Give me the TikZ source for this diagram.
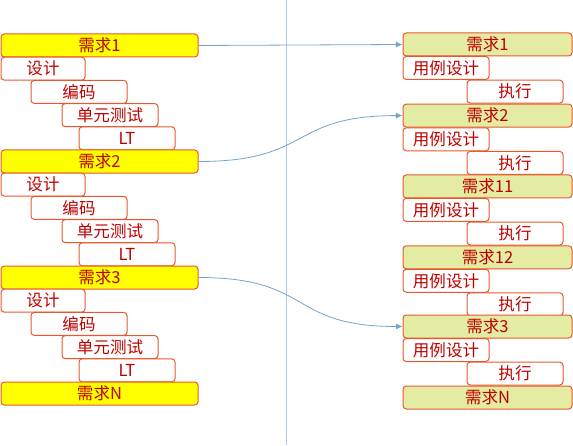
\documentclass[tikz,border=0pt]{standalone}
\usepackage{fontspec}
\newfontfamily\cjk{Noto Sans CJK SC}
\usetikzlibrary{arrows.meta}
\definecolor{boxline}{HTML}{E8582C}
\definecolor{boxtext}{HTML}{C00000}
\definecolor{reqfill}{HTML}{FFFF00}
\definecolor{casefill}{HTML}{E4EBA2}
\definecolor{linkblue}{HTML}{6FA6CE}
\definecolor{divider}{HTML}{B4CCDE}
\begin{document}
\begin{tikzpicture}[x=0.75pt, y=-0.75pt,
	every node/.style={draw=boxline, line width=0.75pt, rounded corners=2.5pt, fill=white, text=boxtext,
		font=\cjk\fontsize{12.4}{14}\selectfont, inner sep=0pt, minimum height=17.25pt},
	reqbox/.style={fill=reqfill, minimum width=147.75pt},
	rreqbox/.style={fill=casefill, minimum width=126.75pt},
	taskbox/.style={minimum width=72pt},
	link/.style={draw=linkblue, line width=0.6pt, -{Latex[length=5pt,width=4.5pt]}}]
				\useasboundingbox (0,0) rectangle (573,445);
				\draw[divider, line width=0.6pt] (286,0) -- (286,445);

				% development side
				\node[reqbox] (req1) at (99.5,45.5) {需求1};
				\node[minimum width=63pt] (design1) at (43,68.7) {设计};
				\node[taskbox] (code1) at (79,91.9) {编码};
				\node[taskbox] (unit1) at (110,115.1) {单元测试};
				\node[taskbox] (lt1) at (127,138.3) {LT};

				\node[reqbox] (req2) at (99.5,161.5) {需求2};
				\node[minimum width=63pt] (design2) at (43,184.7) {设计};
				\node[taskbox] (code2) at (79,207.9) {编码};
				\node[taskbox] (unit2) at (110,231.1) {单元测试};
				\node[taskbox] (lt2) at (127,254.3) {LT};

				\node[reqbox] (req3) at (99.5,277.5) {需求3};
				\node[minimum width=63pt] (design3) at (43,300.7) {设计};
				\node[taskbox] (code3) at (79,323.9) {编码};
				\node[taskbox] (unit3) at (110,347.1) {单元测试};
				\node[taskbox] (lt3) at (127,370.3) {LT};

				\node[reqbox] (reqN) at (99.5,393.5) {需求N};

				% test side
				\node[rreqbox] (test1) at (487.5,44.5) {需求1};
				\node[minimum width=64.5pt] (case1) at (446,68) {用例设计};
				\node[taskbox] (exec1) at (515,91.6) {执行};

				\node[rreqbox] (test2) at (487.5,115.6) {需求2};
				\node[minimum width=64.5pt] (case2) at (446,139.3) {用例设计};
				\node[taskbox] (exec2) at (515,162.9) {执行};

				\node[rreqbox] (test11) at (487.5,186.4) {需求11};
				\node[minimum width=64.5pt] (case11) at (446,209.9) {用例设计};
				\node[taskbox] (exec11) at (515,233.5) {执行};

				\node[rreqbox] (test12) at (487.5,257.3) {需求12};
				\node[minimum width=64.5pt] (case12) at (446,280.8) {用例设计};
				\node[taskbox] (exec12) at (515,304.3) {执行};

				\node[rreqbox] (test3) at (487.5,326.5) {需求3};
				\node[minimum width=64.5pt] (case3) at (446,350) {用例设计};
				\node[taskbox] (exec3) at (515,373.5) {执行};

				\node[rreqbox] (testN) at (487.5,397.5) {需求N};

				\draw[link] (req1.east) -- (test1.west);
				\draw[link] (req2.east) to[out=0, in=180, looseness=1.4] (test2.west);
				\draw[link] (req3.east) to[out=0, in=180, looseness=1.4] (test3.west);
			\end{tikzpicture}
\end{document}
